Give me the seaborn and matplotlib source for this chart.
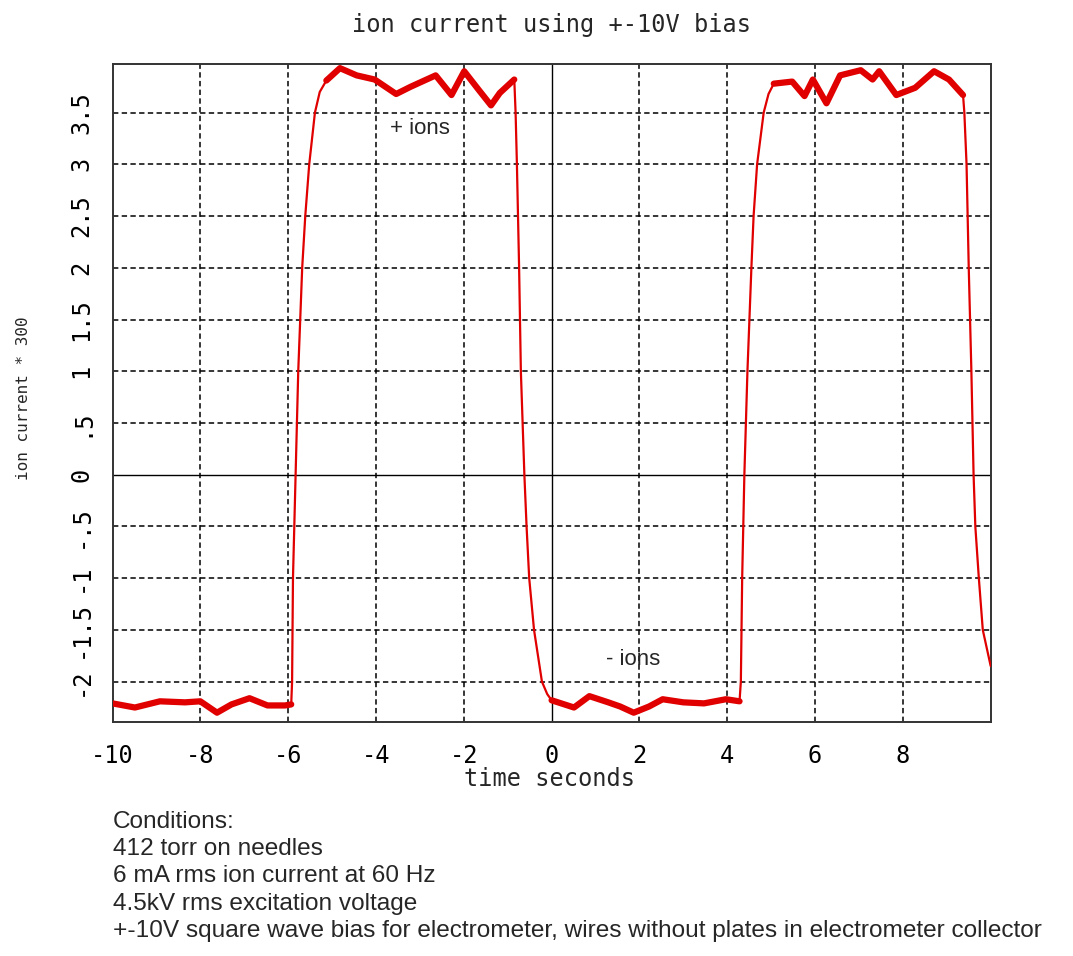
import matplotlib
matplotlib.use("Agg")
import matplotlib.pyplot as plt
import seaborn as sns
import numpy as np
import pandas as pd

# ---- data ----
time_s = [-10.0, -9.49, -8.92, -8.35, -8.0, -7.62, -7.29, -6.88, -6.47, -6.07,
          -5.93, -5.91, -5.89, -5.83, -5.77, -5.68, -5.61, -5.52, -5.39, -5.28, -5.13,
          -4.82, -4.44, -4.03, -3.54, -3.21, -2.64, -2.28, -1.99, -1.66, -1.38,
          -1.18, -0.85, -0.82, -0.79, -0.74, -0.70, -0.62, -0.57, -0.51, -0.40,
          -0.22, -0.10, 0.0, 0.51, 0.86, 1.29, 1.56, 1.87, 2.22, 2.53, 3.0,
          3.47, 3.97, 4.28, 4.31, 4.34, 4.39, 4.46, 4.55, 4.60, 4.68,
          4.83, 4.94, 5.06, 5.48, 5.76, 5.95, 6.26, 6.57, 7.04, 7.31, 7.46,
          7.85, 8.28, 8.71, 9.05, 9.37, 9.40, 9.45, 9.50, 9.56, 9.61,
          9.65, 9.73, 9.82, 10.0]
ion_current = [-2.21, -2.25, -2.19, -2.20, -2.19, -2.30, -2.22, -2.16, -2.23, -2.23,
               -2.22, -2.0, -1.0, 0.0, 1.0, 2.0, 2.5, 3.0, 3.5, 3.70, 3.81,
               3.93, 3.86, 3.82, 3.68, 3.75, 3.86, 3.67, 3.90, 3.72, 3.57,
               3.69, 3.82, 3.5, 3.0, 2.0, 1.0, 0.0, -0.5, -1.0, -1.5,
               -2.0, -2.12, -2.18, -2.25, -2.14, -2.20, -2.24, -2.30, -2.24, -2.17, -2.20,
               -2.21, -2.17, -2.19, -2.0, -1.0, 0.0, 1.0, 2.0, 2.5, 3.0,
               3.5, 3.68, 3.78, 3.80, 3.66, 3.82, 3.59, 3.86, 3.91, 3.82, 3.90,
               3.67, 3.74, 3.90, 3.82, 3.67, 3.5, 3.0, 2.0, 1.0, 0.0,
               -0.5, -1.0, -1.5, -1.85]
# plateau intervals (noisy, drawn as a thicker band)
plateau_start = [-10.0, -5.13, 0.0, 5.06]
plateau_end = [-5.93, -0.85, 4.28, 9.37]

x_ticks = [-10, -8, -6, -4, -2, 0, 2, 4, 6, 8]
x_tick_labels = ["-10", "-8", "-6", "-4", "-2", "0", "2", "4", "6", "8"]
y_ticks = [-2, -1.5, -1, -0.5, 0, 0.5, 1, 1.5, 2, 2.5, 3, 3.5]
y_tick_labels = ["-2", "-1.5", "-1", "-.5", "0", ".5", "1", "1.5", "2", "2.5", "3", "3.5"]

title = "ion current using +-10V bias"
x_label = "time seconds"
y_label = "ion current * 300"
conditions = ["Conditions:",
              "412 torr on needles",
              "6 mA rms ion current at 60 Hz",
              "4.5kV rms excitation voltage",
              "+-10V square wave bias for electrometer, wires without plates in electrometer collector"]

df = pd.DataFrame({"t": time_s, "v": ion_current})

sns.set_theme(style="white")
MONO = ["DejaVu Sans Mono", "DejaVu Sans"]
NARROW = ["Liberation Sans Narrow", "Liberation Sans", "DejaVu Sans"]
plt.rcParams["font.family"] = MONO

W, H = 1073, 956
fig = plt.figure(figsize=(W / 100, H / 100), dpi=100)
fig.patch.set_facecolor("white")
ax = fig.add_axes([112.5 / W, 1 - 722 / H, (990.7 - 112.5) / W, (722 - 64) / H])
ax.set_facecolor("white")

RED = "#e00000"
sns.lineplot(data=df, x="t", y="v", ax=ax, color=RED, linewidth=1.6,
             sort=False, estimator=None, zorder=5)
for s, e in zip(plateau_start, plateau_end):
    sub = df[(df["t"] >= s) & (df["t"] <= e)]
    sns.lineplot(data=sub, x="t", y="v", ax=ax, color=RED, linewidth=4.5,
                 sort=False, estimator=None, zorder=5)
for ln in ax.get_lines():
    ln.set_solid_joinstyle("round")
    ln.set_solid_capstyle("round")

ax.set_xlim(-10, 10.0)
ax.set_ylim(-2.39, 3.97)
ax.set_xticks(x_ticks)
ax.set_xticklabels(x_tick_labels, fontsize=17, family=MONO)
ax.set_yticks(y_ticks)
ax.set_yticklabels(y_tick_labels, fontsize=17, family=MONO, rotation=90, va="center")
ax.tick_params(axis="both", length=0, colors="black")
ax.tick_params(axis="x", pad=16)
ax.tick_params(axis="y", pad=14)

# grid
for xv in x_ticks:
    if xv in (-10, 0):
        continue
    ax.axvline(xv, color="black", lw=1.1, linestyle=(0, (3.5, 2.2)), zorder=1)
for yv in y_ticks:
    if yv == 0:
        continue
    ax.axhline(yv, color="black", lw=1.1, linestyle=(0, (3.5, 2.2)), zorder=1)
ax.axvline(0, color="black", lw=1.0, zorder=2)
ax.axhline(0, color="black", lw=1.0, zorder=2)

for sp in ax.spines.values():
    sp.set_visible(True)
    sp.set_color("#333333")
    sp.set_linewidth(1.4)

ax.set_xlabel("")
ax.set_ylabel("")
fig.text(551 / W, 1 - 25 / H, title, ha="center", va="center", fontsize=17, family=MONO)
fig.text(550 / W, 1 - 779 / H, x_label, ha="center", va="center", fontsize=17, family=MONO)
fig.text(24 / W, 1 - 398 / H, y_label, ha="center", va="center", fontsize=11.5,
         family=MONO, rotation=90)

ax.text(-3.0, 3.35, "+ ions", ha="center", va="center", fontsize=16, family=NARROW)
ax.text(1.85, -1.79, "- ions", ha="center", va="center", fontsize=16, family=NARROW)

baselines = [828, 855, 882, 910, 937]
txts = []
for line, b in zip(conditions, baselines):
    txts.append(fig.text(113 / W, 1 - b / H, line, ha="left", va="baseline",
                         fontsize=18, family=NARROW))
# fit the longest line to its measured width in the reference
fig.canvas.draw()
r = fig.canvas.get_renderer()
wlast = txts[-1].get_window_extent(r).width
fs = 18 * (930 / wlast)
for t in txts:
    t.set_fontsize(fs)

fig.savefig("out.png", dpi=100, facecolor="white")
